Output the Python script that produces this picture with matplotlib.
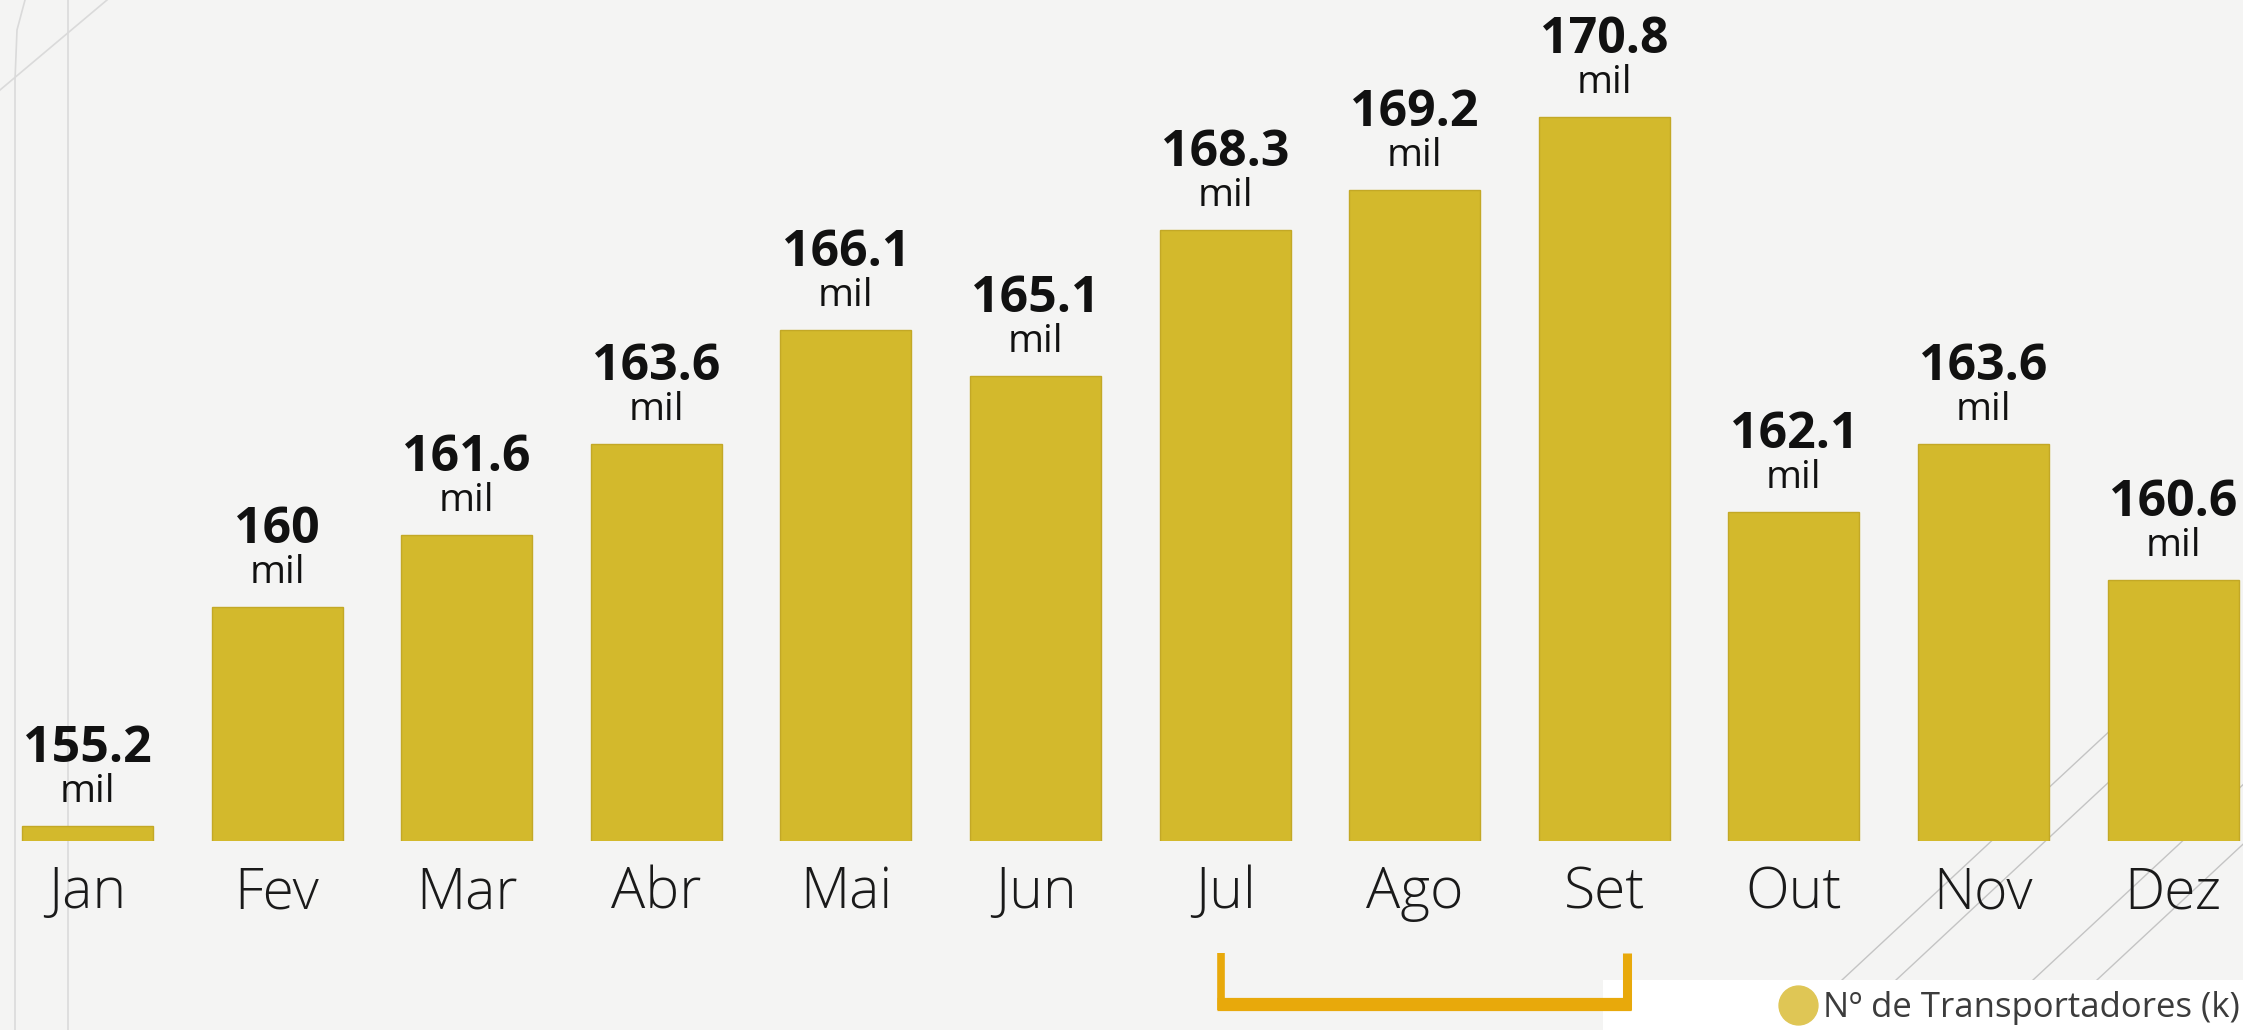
import matplotlib
matplotlib.use("Agg")
import matplotlib.pyplot as plt
from matplotlib.lines import Line2D
from matplotlib.patches import Rectangle

# ---- data ----
months = ["Jan", "Fev", "Mar", "Abr", "Mai", "Jun", "Jul", "Ago", "Set", "Out", "Nov", "Dez"]
values = [155.2, 160, 161.6, 163.6, 166.1, 165.1, 168.3, 169.2, 170.8, 162.1, 163.6, 160.6]
unit_label = "mil"
series_name = "Nº de Transportadores (k)"
highlight = ["Jul", "Set"]  # bracket under these months

W, H = 2243, 1030
BG = "#F4F4F3"
BAR = "#D3B92C"
BAR_EDGE = "#C3A826"
BRACKET = "#E8A90B"
LEGEND_DOT = "#DFC655"

fig = plt.figure(figsize=(W / 100, H / 100), dpi=100)
fig.patch.set_facecolor(BG)

def fx(px):
    return px / W

def fy(py):
    return 1 - py / H

# decorative background lines
deco = dict(color="#DADADA", lw=1.2, zorder=-1, transform=fig.transFigure)
fig.add_artist(Line2D([fx(15), fx(15), fx(17), fx(25)], [0, fy(80), fy(30), 1], **deco))
fig.add_artist(Line2D([fx(68), fx(68)], [0, 1], **deco))
fig.add_artist(Line2D([fx(0), fx(107)], [fy(90), fy(0)], **deco))
diag = dict(color="#C4C4C4", lw=1.0, zorder=-1, transform=fig.transFigure)
for x0 in [1842, 1896, 2033, 2097]:
    fig.add_artist(Line2D([fx(x0), fx(x0 + 300)], [fy(980), fy(980 - 0.93 * 300)], **diag))

# axes
base_px = 841
ax = fig.add_axes([0, (H - base_px) / H, 1, base_px / H])
ax.set_facecolor("none")
x = list(range(len(months)))
ax.bar(x, values, width=0.69, color=BAR, edgecolor=BAR_EDGE, linewidth=1.0, zorder=2)

ymin = 154.86
px_per_unit = 45.43
ax.set_ylim(ymin, ymin + base_px / px_per_unit)
step = 189.6
ax.set_xlim(-87.5 / step, (W - 87.5) / step)

for i, v in enumerate(values):
    ax.annotate(f"{v:g}", (i, v), xytext=(0, 64), textcoords="offset pixels",
                ha="center", va="baseline", fontsize=36, fontweight="bold",
                family=["Open Sans", "DejaVu Sans"], color="#111111")
    ax.annotate(unit_label, (i, v), xytext=(0, 24), textcoords="offset pixels",
                ha="center", va="baseline", fontsize=28,
                family=["Open Sans", "DejaVu Sans"], color="#111111")

ax.set_xticks(x, months)
ax.tick_params(axis="x", length=0, pad=17)
for lbl in ax.get_xticklabels():
    lbl.set_fontsize(41)
    lbl.set_fontfamily(["Open Sans", "DejaVu Sans"])
    lbl.set_fontweight("light")
    lbl.set_color("#1a1a1a")
ax.set_yticks([])
for s in ax.spines.values():
    s.set_visible(False)

# bracket under highlighted months
i0, i1 = months.index(highlight[0]), months.index(highlight[1])
xl = fx(87.5 + (i0 - 0.02) * step)
xr = fx(87.5 + (i1 + 0.12) * step)
btop, bbot = fy(953), fy(1004)
bk = dict(color=BRACKET, solid_capstyle="butt", transform=fig.transFigure, zorder=3)
fig.add_artist(Line2D([xl, xl], [btop, fy(1010)], lw=5.5, **bk))
fig.add_artist(Line2D([xr, xr], [btop, fy(1010)], lw=6.5, **bk))
fig.add_artist(Line2D([xl - fx(4), xr + fx(4)], [bbot, bbot], lw=9.5, **bk))

# white box + legend
fig.add_artist(Rectangle((fx(1603), 0), 1 - fx(1603), fy(980), transform=fig.transFigure,
                         facecolor="white", edgecolor="none", zorder=1))
handle = Line2D([], [], marker="o", linestyle="", markersize=28, color=LEGEND_DOT)
leg = fig.legend([handle], [series_name], loc="center right", bbox_to_anchor=(1.0, fy(1008)),
                 frameon=False, handletextpad=0.1, borderaxespad=0.0, borderpad=0.1,
                 handlelength=1.2,
                 prop={"family": ["Open Sans", "DejaVu Sans"], "size": 25})
for t in leg.get_texts():
    t.set_color("#3c3c3c")
leg.set_zorder(4)

fig.savefig("out.png", dpi=100, facecolor=fig.get_facecolor())
